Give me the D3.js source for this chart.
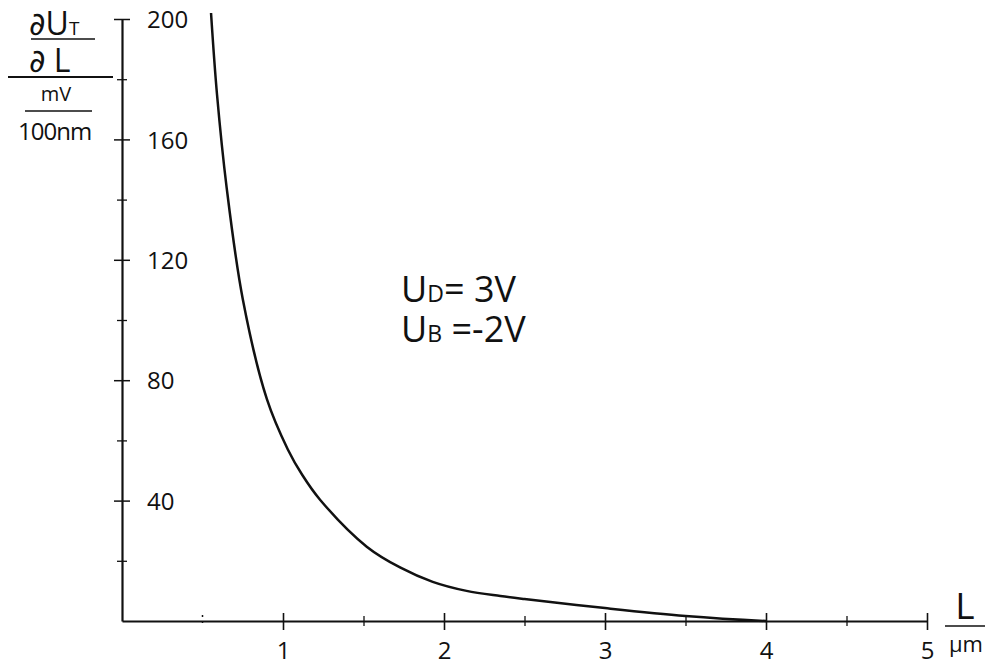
<!DOCTYPE html>
<html>
<head>
<meta charset="utf-8">
<script src="https://cdn.jsdelivr.net/npm/d3@7"></script>
<style>
  body { margin: 0; background: #fff; }
  svg text { font-family: "Open Sans", "DejaVu Sans", sans-serif; fill: #111; }
</style>
</head>
<body>
<script>
// Kurve dU_T/dL ueber L
let lengths = [0.553, 0.59, 0.65, 0.75, 0.90, 1.03, 1.12, 1.23, 1.52, 1.73, 1.93, 2.14, 2.35, 2.5, 3.0, 3.5, 4.0];
let slopes  = [202, 175, 144, 107, 73.7, 57, 48.5, 40.3, 24.7, 17.7, 13, 10, 8.3, 7.3, 4.3, 1.7, 0];

let yMajor = [40, 80, 120, 160, 200];
let yMinor = [20, 60, 100, 140, 180];
let xMajor = [1, 2, 3, 4, 5];
let xMinor = [1.5, 2.5, 3.5, 4.5];

let width = 989, height = 665;

let svg = d3.select("body").append("svg")
    .attr("width", width)
    .attr("height", height);

// Skalen
let x = d3.scaleLinear().domain([0, 5]).range([122, 927]);
let y = d3.scaleLinear().domain([0, 200]).range([621, 19]);

// Y-Achse: Striche nach beiden Seiten, Beschriftung rechts
let gy = svg.append("g")
    .attr("transform", "translate(" + x(0) + ",0)")
    .call(d3.axisRight(y).tickValues(yMajor).tickSize(8).tickSizeOuter(0).tickPadding(17));
gy.select(".domain").attr("stroke", "#111").attr("stroke-width", 2.2);
gy.selectAll(".tick line").attr("x1", -8).attr("stroke", "#111").attr("stroke-width", 1.5);
gy.selectAll(".tick text").style("font-size", "24px").attr("dy", "0.36em");

let gy2 = svg.append("g")
    .attr("transform", "translate(" + x(0) + ",0)")
    .call(d3.axisRight(y).tickValues(yMinor).tickSize(5).tickFormat(""));
gy2.select(".domain").remove();
gy2.selectAll(".tick line").attr("x1", -5).attr("stroke", "#111").attr("stroke-width", 1.3);

// X-Achse
let gx = svg.append("g")
    .attr("transform", "translate(0," + y(0) + ")")
    .call(d3.axisBottom(x).tickValues(xMajor).tickFormat(d3.format("d"))
        .tickSize(9).tickSizeOuter(0).tickPadding(12));
gx.select(".domain").attr("stroke", "#111").attr("stroke-width", 2.2);
gx.selectAll(".tick line").attr("y1", -8).attr("stroke", "#111").attr("stroke-width", 1.6);
gx.selectAll(".tick text").style("font-size", "24px");

let gx2 = svg.append("g")
    .attr("transform", "translate(0," + y(0) + ")")
    .call(d3.axisBottom(x).tickValues(xMinor).tickSize(5).tickFormat(""));
gx2.select(".domain").remove();
gx2.selectAll(".tick line").attr("y1", -5).attr("stroke", "#111").attr("stroke-width", 1.3);

// kleine Punkte bei 0.5
svg.append("line")
    .attr("x1", x(0.5)).attr("x2", x(0.5))
    .attr("y1", y(0) - 6).attr("y2", y(0) + 6)
    .attr("stroke", "#111").attr("stroke-width", 1.5)
    .attr("stroke-dasharray", "2,4");

// Kurve
let pts = lengths.map((l, i) => [l, slopes[i]]);
svg.append("path")
    .datum(pts)
    .attr("fill", "none")
    .attr("stroke", "#111")
    .attr("stroke-width", 2.5)
    .attr("d", d3.line().x(d => x(d[0])).y(d => y(d[1])).curve(d3.curveCatmullRom.alpha(0.5)));

// Achsentitel oben links
let t = svg.append("g");
let a = t.append("text").attr("x", 29).attr("y", 35).style("font-size", "32px");
a.append("tspan").style("font-family", "DejaVu Sans").text("∂");
a.append("tspan").text("U");
a.append("tspan").style("font-size", "19px").text("T");
t.append("line").attr("x1", 31).attr("x2", 95).attr("y1", 39).attr("y2", 39)
    .attr("stroke", "#111").attr("stroke-width", 1.6);
let b = t.append("text").attr("x", 29).attr("y", 72).style("font-size", "32px");
b.append("tspan").style("font-family", "DejaVu Sans").text("∂");
b.append("tspan").text(" L");
t.append("line").attr("x1", 8).attr("x2", 113).attr("y1", 77).attr("y2", 77)
    .attr("stroke", "#111").attr("stroke-width", 2);
t.append("text").attr("x", 56).attr("y", 101).attr("text-anchor", "middle")
    .style("font-size", "20px").text("mV");
t.append("line").attr("x1", 25).attr("x2", 92).attr("y1", 111).attr("y2", 111)
    .attr("stroke", "#111").attr("stroke-width", 1.4);
t.append("text").attr("x", 18).attr("y", 140).style("font-size", "24px")
    .style("letter-spacing", "-1px").text("100nm");

// Einheit x-Achse
svg.append("text").attr("x", 965).attr("y", 619).attr("text-anchor", "middle")
    .style("font-size", "37px").text("L");
svg.append("line").attr("x1", 945).attr("x2", 985).attr("y1", 626).attr("y2", 626)
    .attr("stroke", "#111").attr("stroke-width", 1.6);
svg.append("text").attr("x", 966).attr("y", 652).attr("text-anchor", "middle")
    .style("font-size", "22px").text("µm");

// Parameter
let p1 = svg.append("text").attr("x", 401).attr("y", 302).style("font-size", "36px");
p1.append("tspan").text("U");
p1.append("tspan").style("font-size", "23px").text("D");
p1.append("tspan").text("= 3V");
let p2 = svg.append("text").attr("x", 401).attr("y", 342).style("font-size", "36px");
p2.append("tspan").text("U");
p2.append("tspan").style("font-size", "23px").text("B");
p2.append("tspan").text(" =-2V");
</script>
</body>
</html>
